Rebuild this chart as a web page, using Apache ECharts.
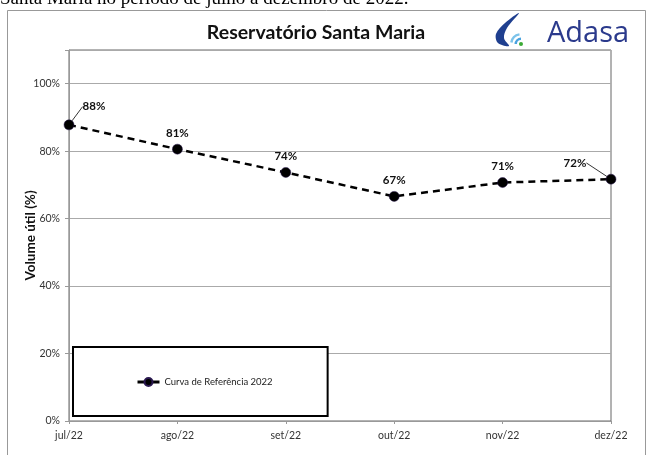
<!DOCTYPE html>
<html>
<head>
<meta charset="utf-8">
<script src="https://cdn.jsdelivr.net/npm/echarts@6/dist/echarts.min.js"></script>
<style>html,body{margin:0;padding:0;background:#fff}#c{width:653px;height:455px}#err{position:absolute;left:80px;top:60px;font:9px monospace;color:red;white-space:pre-wrap;width:560px}</style>
</head>
<body>
<div id="c"></div>
<div id="err"></div>
<script>
var months = ['jul/22', 'ago/22', 'set/22', 'out/22', 'nov/22', 'dez/22'];
var curva2022 = [87.8, 80.6, 73.7, 66.6, 70.7, 71.7];
var yTicks = [0, 20, 40, 60, 80, 100];
var seriesName = 'Curva de Referência 2022';
var chartTitle = 'Reservatório Santa Maria';
var yAxisTitle = 'Volume útil (%)';
var captionText = 'Santa Maria no período de julho a dezembro de 2022.';

var FONT = 'Lato, "Liberation Sans", sans-serif';
var errDiv = document.getElementById('err');
function log(tag, e) { errDiv.textContent += tag + ': ' + (e && e.stack ? e.stack.slice(0, 400) : e) + '\n'; }
var lastIdx = curva2022.length - 1;
var seriesData = curva2022.map(function (v, i) {
  return {value: v, labelLine: {show: i === 0 || i === lastIdx}};
});
var chart = echarts.init(document.getElementById('c'));
try {
chart.setOption({
  animation: false,
  backgroundColor: '#fff',
  textStyle: {fontFamily: FONT},
  title: {
    text: chartTitle, left: 311, top: 18, textAlign: 'center',
    textStyle: {fontFamily: FONT, fontWeight: 'bold', fontSize: 19.5, color: '#111'}
  },
  legend: {
    left: 73, top: 347, padding: [30, 55, 29, 63],
    borderColor: '#000', borderWidth: 2, backgroundColor: '#fff', borderRadius: 0,
    itemWidth: 22, itemHeight: 10, itemGap: 5,
    textStyle: {fontFamily: FONT, fontSize: 9.5, color: '#222'},
    lineStyle: {type: 'solid', width: 3},
    data: [seriesName]
  },
  grid: {left: 69, right: 42, top: 50, bottom: 34, show: true, borderColor: '#666', borderWidth: 1},
  xAxis: {
    type: 'category', data: months, boundaryGap: false,
    axisLine: {lineStyle: {color: '#999', width: 1}},
    axisTick: {show: true, length: 3, lineStyle: {color: '#999'}},
    axisLabel: {fontFamily: FONT, fontSize: 10.5, color: '#333', margin: 9},
    splitLine: {show: false}
  },
  yAxis: {
    type: 'value', min: 0, max: 110, interval: 20,
    name: yAxisTitle, nameLocation: 'middle', nameRotate: 90, nameGap: 31, nameMoveOverlap: false,
    nameTextStyle: {fontFamily: FONT, fontWeight: 'bold', fontSize: 13.5, color: '#111'},
    axisLine: {show: true, lineStyle: {color: '#999', width: 1}},
    axisTick: {show: true, length: 4, lineStyle: {color: '#999'}},
    axisLabel: {fontFamily: FONT, fontSize: 10.5, color: '#333', margin: 9,
      formatter: function (v) { return yTicks.indexOf(v) >= 0 ? v + '%' : ''; }},
    splitLine: {show: true, lineStyle: {color: '#aaa', width: 1}}
  },
  series: [{
    name: seriesName, type: 'line', data: seriesData,
    symbol: 'circle', symbolSize: 10,
    itemStyle: {color: '#000', borderColor: '#2a1850', borderWidth: 0.5},
    lineStyle: {color: '#000', width: 2.5, type: [7, 5]},
    label: {show: true, position: 'top', distance: 5,
      fontFamily: FONT, fontWeight: 'bold', fontSize: 11.5, color: '#111',
      formatter: function (p) { return Math.round(p.value) + '%'; }},
    labelLine: {show: false, lineStyle: {color: '#000', width: 0.8}},
    labelLayout: function (p) {
      if (p.dataIndex === 0) return {dx: 25, dy: -2};
      if (p.dataIndex === lastIdx) return {dx: -36, dy: 0};
      return {};
    }
  }]
});
} catch (e) { log('core', e); }
try {
chart.setOption({
  graphic: [
    {type: 'rect', shape: {x: 7.5, y: 10.5, width: 638, height: 460}, style: {fill: 'none', stroke: '#999', lineWidth: 1}, silent: true, z: -10},
    {type: 'text', x: 0, y: 9, style: {text: captionText, font: '19px "Liberation Serif", serif', fill: '#000', verticalAlign: 'bottom'}},
    {type: 'polygon', shape: {points: [[519, 13], [505, 23], [496, 34], [498, 43], [509, 46], [504, 38], [507, 28]], smooth: 0.35}, style: {fill: '#1f3f8f'}},
    {type: 'sector', shape: {cx: 521, cy: 44, r0: 4, r: 6.5, startAngle: Math.PI * 1.0, endAngle: Math.PI * 1.5}, style: {fill: '#4aa3df'}},
    {type: 'sector', shape: {cx: 521, cy: 44, r0: 8.5, r: 11, startAngle: Math.PI * 1.05, endAngle: Math.PI * 1.45}, style: {fill: '#7cc3ea'}},
    {type: 'circle', shape: {cx: 521, cy: 44, r: 2}, style: {fill: '#3aaa35'}},
    {type: 'text', x: 547, y: 19, style: {text: 'Adasa', font: '29px "Open Sans", sans-serif', fill: '#2b3a8c'}}
  ]
});
} catch (e) { log('graphic', e); }
</script>
</body>
</html>
